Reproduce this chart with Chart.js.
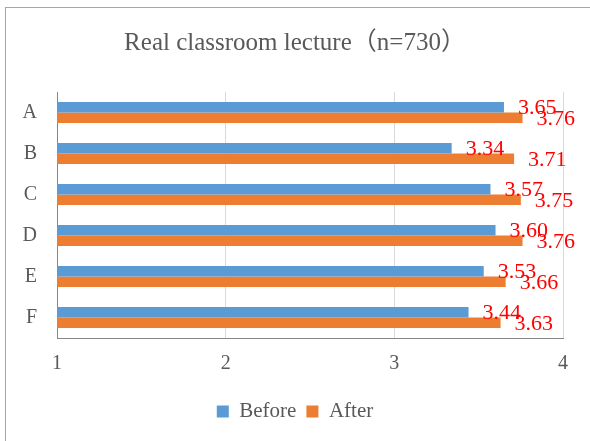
<!DOCTYPE html>
<html>
<head>
<meta charset="utf-8">
<script src="https://cdn.jsdelivr.net/npm/chart.js@4"></script>
<style>
  html, body { margin: 0; padding: 0; background: #fff; overflow: hidden; }
  #frame { position: absolute; left: 5px; top: 7px; width: 700px; height: 600px; border: 1px solid #a6a6a6; }
  #wrap { position: absolute; left: 0; top: 0; width: 590px; height: 441px; }
</style>
</head>
<body>
<div id="frame"></div>
<div id="wrap"><canvas id="chart"></canvas></div>
<script>
  const categories = ["A", "B", "C", "D", "E", "F"];
  const beforeValues = [3.65, 3.34, 3.57, 3.60, 3.53, 3.44];
  const afterValues  = [3.76, 3.71, 3.75, 3.76, 3.66, 3.63];
  const xTicks = [1, 2, 3, 4];

  const COLOR_BEFORE = "#5B9BD5";
  const COLOR_AFTER  = "#ED7D31";
  const TEXT_GRAY    = "#595959";
  const SERIF = "'Liberation Serif', 'Noto Sans CJK JP', serif";

  // red value labels at the end of every bar
  const valueLabels = {
    id: "valueLabels",
    afterDatasetsDraw(chart) {
      const ctx = chart.ctx;
      ctx.save();
      ctx.font = "22px " + SERIF;
      ctx.fillStyle = "#FF0000";
      ctx.textAlign = "left";
      ctx.textBaseline = "middle";
      chart.data.datasets.forEach((ds, di) => {
        chart.getDatasetMeta(di).data.forEach((bar, i) => {
          ctx.fillText(ds.data[i].toFixed(2), bar.x + 14, bar.y + 1);
        });
      });
      ctx.restore();
    },
  };

  new Chart(document.getElementById("chart"), {
    type: "bar",
    data: {
      labels: categories,
      datasets: [
        { label: "Before", data: beforeValues, backgroundColor: COLOR_BEFORE, borderWidth: 0 },
        { label: "After", data: afterValues, backgroundColor: COLOR_AFTER, borderWidth: 0 },
      ],
    },
    options: {
      indexAxis: "y",
      responsive: true,
      maintainAspectRatio: false,
      animation: false,
      datasets: { bar: { categoryPercentage: 0.51, barPercentage: 1 } },
      layout: { padding: { left: 0, right: 0, top: 0, bottom: 9 } },
      plugins: {
        tooltip: { enabled: false },
        title: {
          display: true,
          text: "Real classroom lecture（n=730）",
          color: TEXT_GRAY,
          font: { family: SERIF, size: 25, weight: "normal", lineHeight: 1.2 },
          padding: { top: 28, bottom: 34 },
        },
        legend: {
          position: "bottom",
          labels: {
            color: TEXT_GRAY,
            font: { family: SERIF, size: 21 },
            boxWidth: 12,
            boxHeight: 12,
            padding: 10,
          },
        },
      },
      scales: {
        x: {
          min: 1,
          max: 4,
          afterBuildTicks: (scale) => { scale.ticks = xTicks.map((v) => ({ value: v })); },
          afterFit: (scale) => { scale.height = 53; },
          ticks: { color: TEXT_GRAY, font: { family: SERIF, size: 20 }, padding: 14 },
          grid: { color: "#d9d9d9", drawTicks: false },
          border: { color: "#868686", width: 1 },
        },
        y: {
          afterFit: (scale) => { scale.width = 57; },
          ticks: { color: TEXT_GRAY, font: { family: SERIF, size: 20 }, padding: 20 },
          grid: { display: false, drawTicks: false },
          border: { color: "#868686", width: 1 },
        },
        // empty right-hand axis, only keeps the plot off the right edge
        yRight: {
          type: "category",
          position: "right",
          afterFit: (scale) => { scale.width = 27; },
          ticks: { display: false },
          grid: { display: false, drawTicks: false },
          border: { display: false },
        },
      },
    },
    plugins: [valueLabels],
  });
</script>
</body>
</html>
